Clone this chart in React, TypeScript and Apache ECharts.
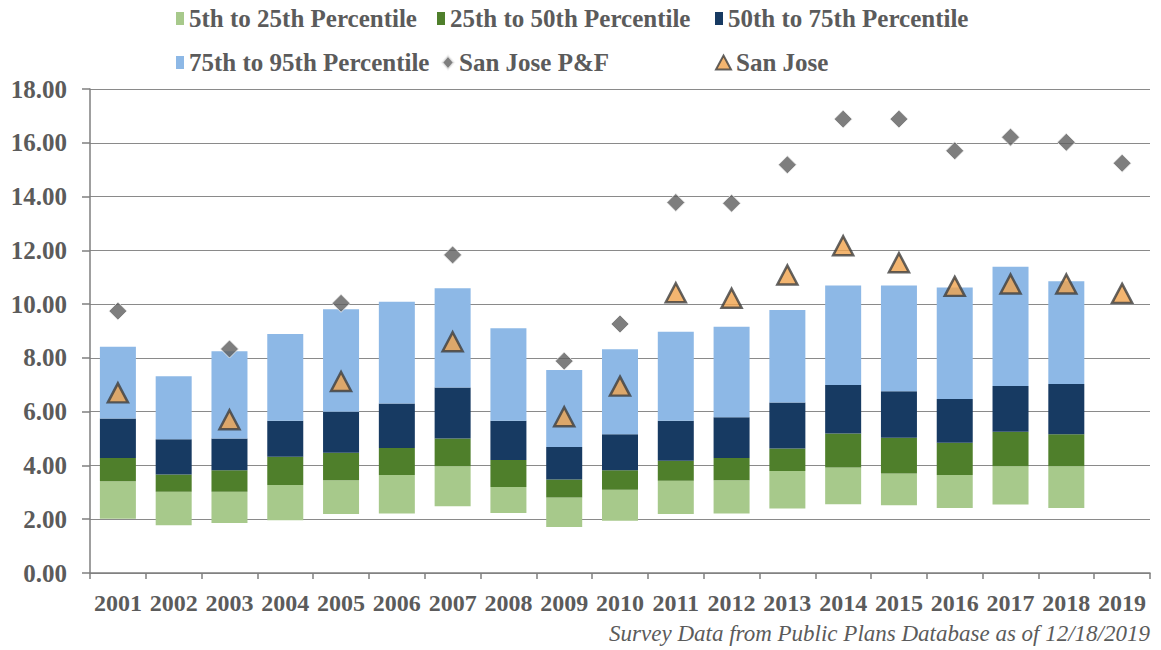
import React, { useEffect, useRef } from "react";
import * as echarts from "echarts";

const years = ["2001","2002","2003","2004","2005","2006","2007","2008","2009","2010","2011","2012","2013","2014","2015","2016","2017","2018","2019"];
const p5  = [2.02,1.78,1.86,1.96,2.19,2.21,2.48,2.23,1.71,1.94,2.19,2.21,2.40,2.56,2.52,2.42,2.55,2.42,null];
const p25 = [3.41,3.02,3.02,3.27,3.45,3.64,3.97,3.20,2.81,3.10,3.43,3.45,3.79,3.92,3.70,3.64,3.97,3.97,null];
const p50 = [4.28,3.66,3.82,4.32,4.47,4.65,5.00,4.20,3.48,3.82,4.17,4.28,4.63,5.19,5.03,4.84,5.25,5.16,null];
const p75 = [5.75,4.97,5.00,5.66,6.00,6.30,6.90,5.66,4.69,5.16,5.66,5.79,6.34,6.99,6.76,6.47,6.95,7.03,null];
const p95 = [8.41,7.32,8.25,8.89,9.81,10.09,10.59,9.10,7.55,8.32,8.97,9.16,9.78,10.69,10.69,10.62,11.39,10.85,null];
const sanJosePF = [9.74,null,8.33,null,10.03,null,11.83,null,7.88,9.26,13.78,13.75,15.18,16.88,16.88,15.70,16.21,16.02,15.24];
const sanJose   = [6.70,null,5.70,null,7.12,null,8.60,null,5.81,6.95,10.42,10.22,11.08,12.17,11.54,10.66,10.75,10.75,10.40];

const seriesNames = ["5th to 25th Percentile","25th to 50th Percentile","50th to 75th Percentile","75th to 95th Percentile","San Jose P&F","San Jose"];
const footnote = "Survey Data from Public Plans Database as of 12/18/2019";

const diff = (a: (number|null)[], b: (number|null)[]) =>
  a.map((v, i) => (v == null || b[i] == null ? null : +((v as number) - (b[i] as number)).toFixed(2)));

const TXT = "#5b5b5b";
const SERIF = "Liberation Serif";

export default function App() {
  const ref = useRef<HTMLDivElement>(null);
  useEffect(() => {
    if (!ref.current) return;
    const chart = echarts.init(ref.current, null, { renderer: "svg" });
    const legendText = { color: TXT, fontSize: 25, fontWeight: "bold" as const, fontFamily: SERIF };
    const mkLegend = (name: string, left: number, top: number, icon: string, w: number, h: number) => ({
      data: [name], left, top, icon, itemWidth: w, itemHeight: h, padding: 0, itemGap: 0,
      textStyle: legendText, selectedMode: false,
    });
    const barColors = ["#a7c98b", "#4f7f2b", "#173a62", "#8db8e6"];
    const segs = [diff(p25, p5), diff(p50, p25), diff(p75, p50), diff(p95, p75)];
    const option: any = {
      animation: false,
      backgroundColor: "#ffffff",
      legend: [
        mkLegend(seriesNames[0], 176, 6, "rect", 8, 13),
        mkLegend(seriesNames[1], 437, 6, "rect", 8, 13),
        mkLegend(seriesNames[2], 715, 6, "rect", 8, 13),
        mkLegend(seriesNames[3], 176, 50, "rect", 8, 13),
        mkLegend(seriesNames[4], 441, 50, "diamond", 12, 14),
        mkLegend(seriesNames[5], 715, 50, "triangle", 15, 14),
      ],
      grid: { left: 90, right: 11, top: 89, bottom: 77, containLabel: false },
      xAxis: {
        type: "category",
        data: years,
        axisLine: { lineStyle: { color: "#7f7f7f", width: 1.5 } },
        axisTick: { show: true, length: 6, lineStyle: { color: "#7f7f7f", width: 1.5 } },
        axisLabel: { color: TXT, fontSize: 24, fontWeight: "bold", fontFamily: SERIF, margin: 18, interval: 0 },
      },
      yAxis: {
        type: "value",
        min: 0, max: 18, interval: 2,
        axisLine: { show: true, lineStyle: { color: "#7f7f7f", width: 1.5 } },
        axisTick: { show: true, length: 8, lineStyle: { color: "#7f7f7f", width: 1.5 } },
        splitLine: { lineStyle: { color: "#8a8a8a", width: 1 } },
        axisLabel: {
          color: TXT, fontSize: 25, fontWeight: "bold", fontFamily: SERIF, margin: 23,
          formatter: (v: number) => v.toFixed(2),
        },
      },
      series: [
        {
          name: "base", type: "bar", stack: "p", data: p5, barWidth: 36,
          itemStyle: { color: "rgba(0,0,0,0)" }, silent: true,
        },
        ...segs.map((d, i) => ({
          name: seriesNames[i], type: "bar", stack: "p", data: d, barWidth: 36,
          itemStyle: { color: barColors[i] },
        })),
        {
          name: seriesNames[4], type: "scatter", data: sanJosePF, symbol: "diamond", symbolSize: [18, 18],
          itemStyle: { color: "#5e5e5e", borderColor: "#f2f2f2", borderWidth: 1 }, z: 5,
        },
        {
          name: seriesNames[5], type: "scatter", data: sanJose, symbol: "triangle", symbolSize: [20, 19],
          itemStyle: { color: "#f0a24c", borderColor: "#3d3d3d", borderWidth: 2.5 }, z: 6,
        },
      ],
      graphic: [
        {
          type: "text", right: 11, top: 622,
          style: { text: footnote, fill: TXT, fontFamily: SERIF, fontStyle: "italic", fontSize: 23 },
        },
      ],
    };
    chart.setOption(option);
    return () => chart.dispose();
  }, []);
  return (
    <div
      ref={ref}
      style={{ position: "fixed", left: 0, top: 0, width: 1161, height: 650, background: "#fff" }}
    />
  );
}
